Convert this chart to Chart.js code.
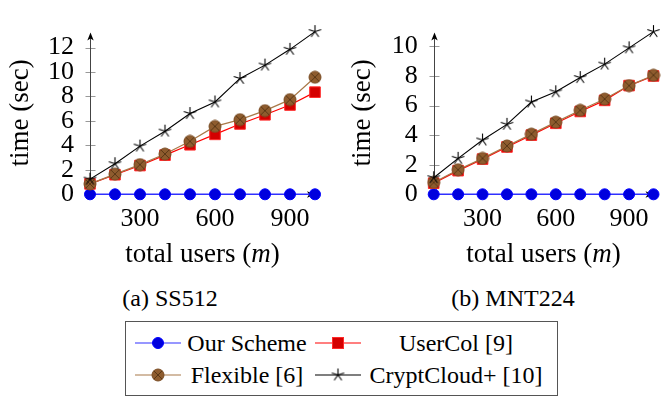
<!DOCTYPE html>
<html>
<head>
<meta charset="utf-8">
<script src="https://cdn.jsdelivr.net/npm/chart.js@4.4.1/dist/chart.umd.min.js"></script>
<style>
  body { margin: 0; background: #fff; width: 662px; height: 397px; overflow: hidden; position: relative; font-family: "Liberation Serif", "Times New Roman", "DejaVu Serif", serif; }
  .plot { position: absolute; top: 0; width: 331px; height: 275px; }
  .caption { position: absolute; top: 285px; font-size: 24px; transform: translateX(-50%); white-space: nowrap; }
  .legend { position: absolute; left: 125px; top: 321px; width: 431px; height: 73px; border: 1px solid #555; }
  .item { position: absolute; font-size: 24px; white-space: nowrap; line-height: 24px; }
  .sample { position: absolute; }
</style>
</head>
<body>
<canvas id="ssChart" class="plot" style="left:0"></canvas>
<canvas id="mntChart" class="plot" style="left:331px"></canvas>
<div class="caption" style="left:170px">(a) SS512</div>
<div class="caption" style="left:513px">(b) MNT224</div>
<div class="legend" id="legend"></div>

<script>
// ------------------------------
// Data
// ------------------------------
const users = [100, 200, 300, 400, 500, 600, 700, 800, 900, 1000];
const xTicks = [300, 600, 900];

// (a) SS512
const ssTicks = [0, 2, 4, 6, 8, 10, 12];
const ssOurs = [0, 0, 0, 0, 0, 0, 0, 0, 0, 0];
const ssUserCol = [0.85, 1.6, 2.35, 3.2, 4.05, 4.9, 5.75, 6.5, 7.3, 8.35];
const ssFlexible = [0.85, 1.65, 2.43, 3.29, 4.33, 5.55, 6.1, 6.84, 7.74, 9.57];
const ssCrypt = [1.24, 2.5, 3.94, 5.16, 6.6, 7.55, 9.47, 10.56, 11.85, 13.3];

// (b) MNT224
const mntTicks = [0, 2, 4, 6, 8, 10];
const mntOurs = [0, 0, 0, 0, 0, 0, 0, 0, 0, 0];
const mntUserCol = [0.75, 1.6, 2.38, 3.2, 4.0, 4.8, 5.6, 6.35, 7.35, 8.0];
const mntFlexible = [0.8, 1.66, 2.43, 3.27, 4.07, 4.88, 5.68, 6.44, 7.35, 8.05];
const mntCrypt = [1.12, 2.43, 3.67, 4.73, 6.24, 6.93, 7.89, 8.8, 9.9, 11.0];

const seriesNames = ['Our Scheme', 'UserCol [9]', 'Flexible [6]', 'CryptCloud+ [10]'];

const SERIF = '"Liberation Serif", "Times New Roman", "DejaVu Serif", serif';
Chart.defaults.color = '#000';
Chart.defaults.font.family = SERIF;

// ------------------------------
// Marker images (pgfplots-like)
// ------------------------------
function otimesMarker(r) {
  const c = document.createElement('canvas');
  const s = Math.ceil(2 * r + 2);
  c.width = c.height = s;
  const g = c.getContext('2d');
  const m = s / 2;
  g.beginPath();
  g.arc(m, m, r, 0, Math.PI * 2);
  g.fillStyle = '#8e5c2e';
  g.fill();
  g.strokeStyle = '#7a4d24';
  g.lineWidth = 1;
  g.stroke();
  const d = r * 0.7;
  g.beginPath();
  g.moveTo(m - d, m - d); g.lineTo(m + d, m + d);
  g.moveTo(m + d, m - d); g.lineTo(m - d, m + d);
  g.strokeStyle = '#5a3816';
  g.stroke();
  return c;
}

function starMarker(r) {
  const c = document.createElement('canvas');
  const s = Math.ceil(2 * r + 2);
  c.width = c.height = s;
  const g = c.getContext('2d');
  const m = s / 2;
  g.beginPath();
  for (let k = 0; k < 5; k++) {
    const a = -Math.PI / 2 + k * 2 * Math.PI / 5;
    g.moveTo(m, m);
    g.lineTo(m + r * Math.cos(a), m + r * Math.sin(a));
  }
  g.strokeStyle = '#000';
  g.lineWidth = 1.1;
  g.stroke();
  return c;
}

const otimesImg = otimesMarker(6);
const starImg = starMarker(6.5);

// ------------------------------
// Axis decorations: arrows and crossing tick marks
// ------------------------------
const axisDecor = {
  id: 'axisDecor',
  beforeDatasetsDraw(chart) {
    const { ctx, chartArea, scales: { x, y } } = chart;
    const x0 = Math.round(x.getPixelForValue(x.min)) + 0.5;
    const y0 = Math.round(y.getPixelForValue(0)) + 0.5;
    ctx.save();
    ctx.lineWidth = 1;
    ctx.strokeStyle = '#999';
    y.ticks.forEach(t => {
      if (t.value === 0) return;
      const py = Math.round(y.getPixelForValue(t.value)) + 0.5;
      ctx.beginPath();
      ctx.moveTo(x0 - 5, py);
      ctx.lineTo(x0 + 5, py);
      ctx.stroke();
    });
    // y axis
    const top = chartArea.top + 1;
    ctx.strokeStyle = '#444';
    ctx.beginPath();
    ctx.moveTo(x0, y0);
    ctx.lineTo(x0, top + 4);
    ctx.stroke();
    ctx.fillStyle = '#000';
    ctx.beginPath();
    ctx.moveTo(x0, top);
    ctx.lineTo(x0 - 3.2, top + 8);
    ctx.lineTo(x0, top + 6);
    ctx.lineTo(x0 + 3.2, top + 8);
    ctx.closePath();
    ctx.fill();
    // x axis
    const right = chartArea.right;
    ctx.strokeStyle = '#000';
    ctx.beginPath();
    ctx.moveTo(x0, y0);
    ctx.lineTo(right - 4, y0);
    ctx.stroke();
    ctx.beginPath();
    ctx.moveTo(right, y0);
    ctx.lineTo(right - 8, y0 - 3.2);
    ctx.lineTo(right - 6, y0);
    ctx.lineTo(right - 8, y0 + 3.2);
    ctx.closePath();
    ctx.fill();
    ctx.restore();
  },
  afterDraw(chart) {
    // x axis title with italic m
    const { ctx, chartArea } = chart;
    const cx = (chartArea.left + chartArea.right) / 2;
    const cy = 262;
    const normal = '27px ' + SERIF;
    const italic = 'italic 27px ' + SERIF;
    const parts = [['total users (', normal], ['m', italic], [')', normal]];
    ctx.save();
    ctx.textBaseline = 'alphabetic';
    ctx.fillStyle = '#000';
    let w = 0;
    parts.forEach(p => { ctx.font = p[1]; w += ctx.measureText(p[0]).width; });
    let px = cx - w / 2;
    parts.forEach(p => {
      ctx.font = p[1];
      ctx.fillText(p[0], px, cy);
      px += ctx.measureText(p[0]).width;
    });
    ctx.restore();
  }
};

function toPoints(vals) {
  return vals.map((v, i) => ({ x: users[i], y: v }));
}

function makeChart(id, data, yMax, yTicks, axisWidth, padRight, titlePad) {
  const [ours, userCol, flexible, crypt] = data;
  return new Chart(document.getElementById(id), {
    type: 'line',
    data: {
      datasets: [
        { label: seriesNames[0], data: toPoints(ours), borderColor: '#3030ff', borderWidth: 1.5,
          pointStyle: 'circle', pointRadius: 5.5, pointBackgroundColor: '#0000dd', pointBorderColor: '#0000ff', pointBorderWidth: 1, order: 3 },
        { label: seriesNames[1], data: toPoints(userCol), borderColor: '#ff0000', borderWidth: 1.2,
          pointStyle: 'rect', pointRadius: 7.5, pointBackgroundColor: '#d40000', pointBorderColor: '#ff2a2a', pointBorderWidth: 1, order: 2 },
        { label: seriesNames[2], data: toPoints(flexible), borderColor: '#a87848', borderWidth: 1.2,
          pointStyle: otimesImg, order: 1 },
        { label: seriesNames[3], data: toPoints(crypt), borderColor: '#000', borderWidth: 1.1,
          pointStyle: starImg, order: 0 }
      ]
    },
    options: {
      responsive: false,
      animation: false,
      events: [],
      clip: false,
      layout: { padding: { top: 12, right: padRight, left: 0, bottom: 0 } },
      plugins: { legend: { display: false }, tooltip: { enabled: false } },
      elements: { line: { tension: 0 } },
      scales: {
        x: {
          type: 'linear', min: 100, max: 1000,
          grid: { display: false, drawTicks: false },
          border: { display: false },
          afterBuildTicks: axis => { axis.ticks = xTicks.map(v => ({ value: v })); },
          afterFit: axis => { axis.height = 275 - 194.3; },
          ticks: { font: { size: 26 }, padding: 9, maxRotation: 0, autoSkip: false }
        },
        y: {
          min: 0, max: yMax,
          grid: { display: false, drawTicks: false },
          border: { display: false },
          afterBuildTicks: axis => { axis.ticks = yTicks.map(v => ({ value: v })); },
          afterFit: axis => { axis.width = axisWidth; },
          ticks: { font: { size: 26 }, padding: 16, autoSkip: false },
          title: { display: true, text: 'time (sec)', font: { size: 27 }, padding: { top: titlePad, bottom: 0 } }
        }
      }
    },
    plugins: [axisDecor]
  });
}

function sizeCanvas(id) {
  const c = document.getElementById(id);
  c.width = 331; c.height = 275;
}
sizeCanvas('ssChart');
sizeCanvas('mntChart');

makeChart('ssChart', [ssOurs, ssUserCol, ssFlexible, ssCrypt], 13.3, ssTicks, 90, 16, 5);
makeChart('mntChart', [mntOurs, mntUserCol, mntFlexible, mntCrypt], 11.0, mntTicks, 102.7, 5.3, 16);

// ------------------------------
// Shared legend box
// ------------------------------
const legendStyles = [
  { line: '#3030ff', draw: g => { g.beginPath(); g.arc(23, 10, 5.5, 0, Math.PI * 2); g.fillStyle = '#0000dd'; g.fill(); g.strokeStyle = '#0000ff'; g.stroke(); } },
  { line: '#ff0000', draw: g => { g.fillStyle = '#d40000'; g.fillRect(17.5, 4.5, 11, 11); g.strokeStyle = '#ff2a2a'; g.strokeRect(17.5, 4.5, 11, 11); } },
  { line: '#a87848', draw: g => { g.drawImage(otimesImg, 23 - otimesImg.width / 2, 10 - otimesImg.height / 2); } },
  { line: '#000', draw: g => { g.drawImage(starImg, 23 - starImg.width / 2, 10 - starImg.height / 2); } }
];
// [sample left, row center y, text center x] relative to the legend box
const legendPos = [[9, 21, 121], [189, 21, 330], [9, 53, 121], [189, 53, 330]];

const legend = document.getElementById('legend');
seriesNames.forEach((name, i) => {
  const [sx, cy, tx] = legendPos[i];
  const c = document.createElement('canvas');
  c.width = 46; c.height = 20;
  c.className = 'sample';
  c.style.left = sx + 'px';
  c.style.top = (cy - 10) + 'px';
  const g = c.getContext('2d');
  g.strokeStyle = legendStyles[i].line;
  g.lineWidth = 1.2;
  g.beginPath(); g.moveTo(0, 10); g.lineTo(46, 10); g.stroke();
  g.lineWidth = 1;
  legendStyles[i].draw(g);
  legend.appendChild(c);
  const t = document.createElement('div');
  t.className = 'item';
  t.textContent = name;
  t.style.left = tx + 'px';
  t.style.top = (cy - 12) + 'px';
  t.style.transform = 'translateX(-50%)';
  legend.appendChild(t);
});
</script>
</body>
</html>
